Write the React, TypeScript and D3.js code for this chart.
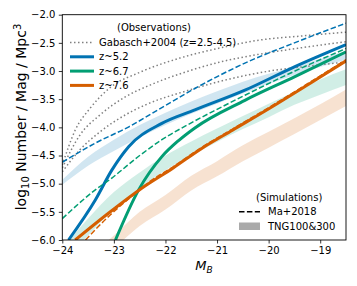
import React, { useRef, useEffect } from 'react';
import * as d3 from 'd3';

type Pt = [number, number];
type Band = [number, number, number];

// Gabasch+2004 Schechter fits (z=2.5-4.5), dotted
const gabaschA: Pt[] = [[-24, -4.67], [-23.75, -4.05], [-23.46, -3.66], [-23.08, -3.3], [-22.49, -3.02], [-21.72, -2.77], [-20.94, -2.59], [-20.17, -2.45], [-19.39, -2.38], [-18.5, -2.31]];
const gabaschB: Pt[] = [[-24, -4.72], [-23.66, -4.14], [-23.27, -3.78], [-22.78, -3.46], [-22.3, -3.25], [-21.62, -3.02], [-20.94, -2.84], [-20.17, -2.7], [-19.39, -2.59], [-18.5, -2.48]];
const gabaschC: Pt[] = [[-24, -4.79], [-23.66, -4.4], [-23.27, -4.08], [-22.78, -3.78], [-22.36, -3.59], [-21.62, -3.36], [-20.75, -3.14], [-19.98, -3.0], [-19.2, -2.91], [-18.5, -2.84]];

// this work, solid
const obsZ52: Pt[] = [[-23.88, -6.0], [-23.36, -5.29], [-23.04, -4.76], [-22.71, -4.34], [-22.07, -3.93], [-21.43, -3.69], [-20.46, -3.34], [-19.49, -2.92], [-18.5, -2.53]];
const obsZ67: Pt[] = [[-22.97, -6.0], [-22.52, -5.11], [-22.07, -4.52], [-21.74, -4.23], [-21.43, -4.01], [-20.46, -3.52], [-19.49, -3.1], [-18.5, -2.66]];
const obsZ76: Pt[] = [[-23.75, -6.0], [-23.1, -5.52], [-22.46, -5.08], [-21.85, -4.72], [-21.29, -4.37], [-20.7, -4.05], [-19.98, -3.66], [-19.2, -3.22], [-18.5, -2.82]];

// Ma+2018, dashed
const maZ52: Pt[] = [[-24, -4.62], [-23.36, -4.28], [-22.71, -3.99], [-22.07, -3.65], [-21.43, -3.31], [-20.46, -2.86], [-19.36, -2.45], [-18.5, -2.15]];
const maZ67: Pt[] = [[-24, -5.62], [-23.36, -5.11], [-23.04, -4.9], [-22.5, -4.5], [-22.07, -4.22], [-21.5, -3.92], [-21.0, -3.68], [-20.46, -3.43], [-19.49, -3.0], [-18.5, -2.6]];
const maZ76: Pt[] = [[-23.55, -6.0], [-23.1, -5.58], [-22.65, -5.22], [-22.3, -4.96], [-21.85, -4.7], [-21.29, -4.35], [-20.7, -4.03], [-19.98, -3.64], [-19.2, -3.2], [-18.5, -2.8]];

// TNG100&300 ranges: [M, low, high]
const tngZ52: Band[] = [[-24, -5.02, -4.93], [-23.5, -4.68, -4.52], [-23, -4.42, -4.22], [-22.5, -4.18, -3.96], [-22, -3.96, -3.74], [-21.5, -3.76, -3.54], [-21, -3.58, -3.36], [-20.5, -3.4, -3.19], [-20, -3.23, -3.05], [-19.5, -3.07, -2.92], [-19, -2.93, -2.78], [-18.5, -2.8, -2.65]];
const tngZ67: Band[] = [[-24, -6.4, -6.15], [-23.5, -5.92, -5.62], [-23, -5.45, -5.15], [-22.5, -5.08, -4.8], [-22, -4.76, -4.5], [-21.5, -4.5, -4.25], [-21, -4.26, -4.02], [-20.5, -4.03, -3.8], [-20, -3.82, -3.58], [-19.5, -3.6, -3.37], [-19, -3.42, -3.15], [-18.5, -3.25, -2.97]];
const tngZ76: Band[] = [[-23.2, -6.3, -6.08], [-23, -6.15, -5.92], [-22.5, -5.75, -5.5], [-22, -5.46, -5.2], [-21.5, -5.12, -4.86], [-21, -4.87, -4.6], [-20.5, -4.6, -4.32], [-20, -4.36, -4.08], [-19.5, -4.12, -3.84], [-19, -3.87, -3.59], [-18.5, -3.62, -3.33]];

const xTicks = [-24, -23, -22, -21, -20, -19];
const yTicks = [-6.0, -5.5, -5.0, -4.5, -4.0, -3.5, -3.0, -2.5, -2.0];

const BLUE = '#0173b2';
const GREEN = '#029e73';
const ORANGE = '#d55e00';
const FONT = 'DejaVu Sans, sans-serif';

const W = 357;
const H = 286;
const margin = { top: 14.7, right: 11, bottom: 46, left: 62.3 };

const LumFunc = () => {
    const svgRef = useRef<SVGSVGElement | null>(null);

    useEffect(() => {
        const svg = d3.select(svgRef.current);
        svg.selectAll('*').remove();

        const x = d3.scaleLinear().domain([-24, -18.5]).range([margin.left, W - margin.right]);
        const y = d3.scaleLinear().domain([-6, -2]).range([H - margin.bottom, margin.top]);

        svg.append('defs').append('clipPath').attr('id', 'plotclip')
            .append('rect')
            .attr('x', x(-24)).attr('y', y(-2))
            .attr('width', x(-18.5) - x(-24)).attr('height', y(-6) - y(-2));

        const plot = svg.append('g').attr('clip-path', 'url(#plotclip)');

        const line = d3.line<Pt>().x(d => x(d[0])).y(d => y(d[1])).curve(d3.curveMonotoneX);
        const area = d3.area<Band>().x(d => x(d[0])).y0(d => y(d[1])).y1(d => y(d[2])).curve(d3.curveMonotoneX);

        // TNG bands
        [[tngZ52, BLUE], [tngZ67, GREEN], [tngZ76, ORANGE]].forEach(([b, c]) => {
            plot.append('path').attr('d', area(b as Band[])).attr('fill', c as string).attr('fill-opacity', 0.18);
        });

        // Gabasch dotted
        [gabaschA, gabaschB, gabaschC].forEach(g => {
            plot.append('path').attr('d', line(g)).attr('fill', 'none')
                .attr('stroke', 'gray').attr('stroke-width', 1.5).attr('stroke-dasharray', '1.5,2.5');
        });

        // solid
        [[obsZ52, BLUE], [obsZ67, GREEN], [obsZ76, ORANGE]].forEach(([s, c]) => {
            plot.append('path').attr('d', line(s as Pt[])).attr('fill', 'none')
                .attr('stroke', c as string).attr('stroke-width', 3);
        });

        // Ma+2018 dashed
        [[maZ52, BLUE], [maZ67, GREEN], [maZ76, ORANGE]].forEach(([s, c]) => {
            plot.append('path').attr('d', line(s as Pt[])).attr('fill', 'none')
                .attr('stroke', c as string).attr('stroke-width', 1.5).attr('stroke-dasharray', '5.5,2.4');
        });

        // frame
        svg.append('rect')
            .attr('x', x(-24)).attr('y', y(-2))
            .attr('width', x(-18.5) - x(-24)).attr('height', y(-6) - y(-2))
            .attr('fill', 'none').attr('stroke', '#000').attr('stroke-width', 0.9);

        // axes
        const xAxis = svg.append('g').attr('transform', `translate(0,${y(-6)})`)
            .call(d3.axisBottom(x).tickValues(xTicks).tickSize(3.5).tickPadding(3.5)
                .tickFormat(d => `${d}`.replace('-', '\u2212')));
        const yAxis = svg.append('g').attr('transform', `translate(${x(-24)},0)`)
            .call(d3.axisLeft(y).tickValues(yTicks).tickSize(3.5).tickPadding(3.5)
                .tickFormat(d => d3.format('.1f')(d as number).replace('-', '\u2212')));
        [xAxis, yAxis].forEach(a => {
            a.select('.domain').remove();
            a.selectAll('line').attr('stroke', '#000').attr('stroke-width', 0.8);
            a.selectAll('text').attr('font-family', FONT).attr('font-size', 10).attr('fill', '#000');
        });

        // axis labels
        const xl = svg.append('text').attr('x', 204).attr('y', 270)
            .attr('text-anchor', 'middle').attr('font-family', FONT).attr('font-size', 13);
        xl.append('tspan').attr('font-style', 'italic').text('M');
        xl.append('tspan').attr('font-style', 'italic').attr('font-size', 9).attr('dy', 3).text('B');

        const yl = svg.append('text')
            .attr('transform', `translate(26,117) rotate(-90)`)
            .attr('text-anchor', 'middle').attr('font-family', FONT).attr('font-size', 14);
        yl.append('tspan').text('log');
        yl.append('tspan').attr('font-size', 10).attr('dy', 3).text('10');
        yl.append('tspan').attr('dy', -3).text(' Number / Mag / Mpc');
        yl.append('tspan').attr('font-size', 10).attr('dy', -5).text('3');

        // observations legend
        const lg = svg.append('g').attr('font-family', FONT).attr('font-size', 10);
        lg.append('text').attr('x', 117).attr('y', 27).attr('dy', '0.35em').text('(Observations)');
        const obsItems = [
            { label: 'Gabasch+2004 (z=2.5-4.5)', color: 'gray', w: 1.5, dash: '1.5,2.5' },
            { label: 'z~5.2', color: BLUE, w: 3, dash: null },
            { label: 'z~6.7', color: GREEN, w: 3, dash: null },
            { label: 'z~7.6', color: ORANGE, w: 3, dash: null },
        ];
        obsItems.forEach((d, i) => {
            const yy = 42.5 + i * 14.3;
            lg.append('line').attr('x1', 70).attr('x2', 94).attr('y1', yy).attr('y2', yy)
                .attr('stroke', d.color).attr('stroke-width', d.w)
                .attr('stroke-dasharray', d.dash);
            lg.append('text').attr('x', 99).attr('y', yy).attr('dy', '0.35em').text(d.label);
        });

        // simulations legend
        lg.append('text').attr('x', 256).attr('y', 197).attr('dy', '0.35em').text('(Simulations)');
        lg.append('line').attr('x1', 239).attr('x2', 260).attr('y1', 211.7).attr('y2', 211.7)
            .attr('stroke', '#000').attr('stroke-width', 1.5).attr('stroke-dasharray', '5.5,2.4');
        lg.append('text').attr('x', 268).attr('y', 211.7).attr('dy', '0.35em').text('Ma+2018');
        lg.append('rect').attr('x', 239).attr('y', 222.5).attr('width', 21).attr('height', 7.5)
            .attr('fill', '#aaaaaa');
        lg.append('text').attr('x', 268).attr('y', 226.3).attr('dy', '0.35em').text('TNG100&300');
    }, []);

    return <svg ref={svgRef} width={W} height={H} style={{ position: 'absolute', left: 0, top: 0, background: '#fff' }}></svg>;
};

export default function App() {
    return <LumFunc />;
}
